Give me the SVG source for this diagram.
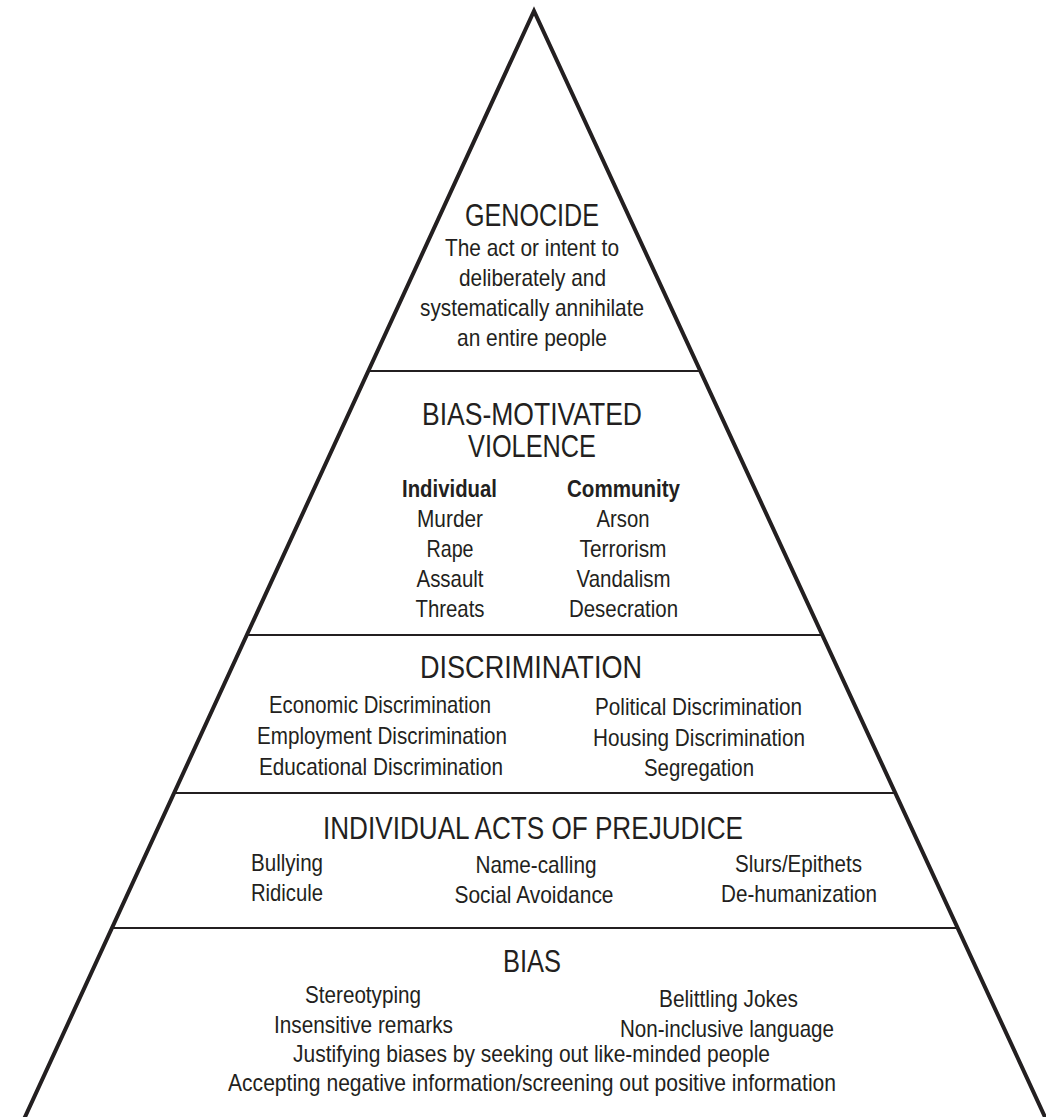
<svg xmlns="http://www.w3.org/2000/svg" width="1046" height="1117" viewBox="0 0 1046 1117">
<style>
  text { font-family: "Liberation Sans", Arial, sans-serif; fill: #231f20; text-anchor: middle; }
  .t { font-size: 31px; }
  .b { font-size: 24px; }
  .bb { font-size: 24px; font-weight: bold; }
  .side { fill: none; stroke: #231f20; stroke-width: 4; stroke-linejoin: miter; stroke-miterlimit: 20; }
  .sep { stroke: #231f20; stroke-width: 2.2; }
</style>
<rect width="1046" height="1117" fill="#ffffff"/>
<g id="connectors">
  <polyline class="side" points="19,1130 534,11 1051,1130"/>
  <line class="sep" x1="368" y1="371" x2="700" y2="371"/>
  <line class="sep" x1="247" y1="635" x2="822" y2="635"/>
  <line class="sep" x1="174" y1="793" x2="895" y2="793"/>
  <line class="sep" x1="112" y1="928" x2="958" y2="928"/>
</g>
<g id="genocide">
  <text class="t" x="532" y="226" textLength="134" lengthAdjust="spacingAndGlyphs">GENOCIDE</text>
  <text class="b" x="532" y="256" textLength="174" lengthAdjust="spacingAndGlyphs">The act or intent to</text>
  <text class="b" x="532.5" y="286" textLength="147" lengthAdjust="spacingAndGlyphs">deliberately and</text>
  <text class="b" x="532" y="316" textLength="224" lengthAdjust="spacingAndGlyphs">systematically annihilate</text>
  <text class="b" x="532" y="346" textLength="150" lengthAdjust="spacingAndGlyphs">an entire people</text>
</g>
<g id="bias-motivated-violence">
  <text class="t" x="532" y="425" textLength="220" lengthAdjust="spacingAndGlyphs">BIAS-MOTIVATED</text>
  <text class="t" x="532" y="457" textLength="128" lengthAdjust="spacingAndGlyphs">VIOLENCE</text>
  <text class="bb" x="449.5" y="497" textLength="95" lengthAdjust="spacingAndGlyphs">Individual</text>
  <text class="b" x="450" y="527" textLength="66" lengthAdjust="spacingAndGlyphs">Murder</text>
  <text class="b" x="450" y="557" textLength="47" lengthAdjust="spacingAndGlyphs">Rape</text>
  <text class="b" x="450" y="587" textLength="67" lengthAdjust="spacingAndGlyphs">Assault</text>
  <text class="b" x="450" y="617" textLength="69" lengthAdjust="spacingAndGlyphs">Threats</text>
  <text class="bb" x="623.5" y="497" textLength="113" lengthAdjust="spacingAndGlyphs">Community</text>
  <text class="b" x="623" y="527" textLength="53" lengthAdjust="spacingAndGlyphs">Arson</text>
  <text class="b" x="623" y="557" textLength="87" lengthAdjust="spacingAndGlyphs">Terrorism</text>
  <text class="b" x="623.5" y="587" textLength="94" lengthAdjust="spacingAndGlyphs">Vandalism</text>
  <text class="b" x="623.5" y="617" textLength="109" lengthAdjust="spacingAndGlyphs">Desecration</text>
</g>
<g id="discrimination">
  <text class="t" x="531" y="678" textLength="222" lengthAdjust="spacingAndGlyphs">DISCRIMINATION</text>
  <text class="b" x="380" y="713" textLength="222" lengthAdjust="spacingAndGlyphs">Economic Discrimination</text>
  <text class="b" x="382" y="744" textLength="250" lengthAdjust="spacingAndGlyphs">Employment Discrimination</text>
  <text class="b" x="381" y="775" textLength="244" lengthAdjust="spacingAndGlyphs">Educational Discrimination</text>
  <text class="b" x="698.5" y="715" textLength="207" lengthAdjust="spacingAndGlyphs">Political Discrimination</text>
  <text class="b" x="699" y="746" textLength="212" lengthAdjust="spacingAndGlyphs">Housing Discrimination</text>
  <text class="b" x="699" y="776" textLength="110" lengthAdjust="spacingAndGlyphs">Segregation</text>
</g>
<g id="individual-acts-of-prejudice">
  <text class="t" x="533" y="839" textLength="420" lengthAdjust="spacingAndGlyphs">INDIVIDUAL ACTS OF PREJUDICE</text>
  <text class="b" x="287" y="871" textLength="72" lengthAdjust="spacingAndGlyphs">Bullying</text>
  <text class="b" x="287" y="901" textLength="72" lengthAdjust="spacingAndGlyphs">Ridicule</text>
  <text class="b" x="536" y="873" textLength="121" lengthAdjust="spacingAndGlyphs">Name-calling</text>
  <text class="b" x="534" y="903" textLength="159" lengthAdjust="spacingAndGlyphs">Social Avoidance</text>
  <text class="b" x="798.5" y="872" textLength="127" lengthAdjust="spacingAndGlyphs">Slurs/Epithets</text>
  <text class="b" x="799" y="902" textLength="156" lengthAdjust="spacingAndGlyphs">De-humanization</text>
</g>
<g id="bias">
  <text class="t" x="532" y="972" textLength="58" lengthAdjust="spacingAndGlyphs">BIAS</text>
  <text class="b" x="363" y="1003" textLength="116" lengthAdjust="spacingAndGlyphs">Stereotyping</text>
  <text class="b" x="363.5" y="1033" textLength="179" lengthAdjust="spacingAndGlyphs">Insensitive remarks</text>
  <text class="b" x="728.5" y="1007" textLength="139" lengthAdjust="spacingAndGlyphs">Belittling Jokes</text>
  <text class="b" x="727" y="1037" textLength="214" lengthAdjust="spacingAndGlyphs">Non-inclusive language</text>
  <text class="b" x="531.5" y="1062" textLength="477" lengthAdjust="spacingAndGlyphs">Justifying biases by seeking out like-minded people</text>
  <text class="b" x="532" y="1091" textLength="608" lengthAdjust="spacingAndGlyphs">Accepting negative information/screening out positive information</text>
</g>
</svg>
